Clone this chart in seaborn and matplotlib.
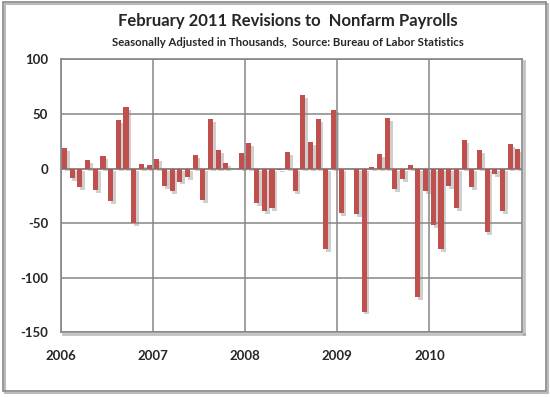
import matplotlib
matplotlib.use("Agg")
import matplotlib.pyplot as plt
import matplotlib.patheffects as pe
from matplotlib.patches import Rectangle
import numpy as np
import pandas as pd
import seaborn as sns

# monthly revisions, Jan 2006 - Dec 2010 (thousands)
rev_2006 = [19, -9, -17, 8, -20, 11, -30, 44, 56, -50, 4, 3]
rev_2007 = [9, -16, -21, -12, -8, 12, -29, 45, 17, 5, 0, 14]
rev_2008 = [23, -32, -39, -36, -1, 15, -21, 67, 24, 45, -74, 54]
rev_2009 = [-41, 0, -42, -131, 1, 13, 46, -19, -10, 3, -118, -21]
rev_2010 = [-52, -74, -16, -36, 26, -17, 17, -58, -5, -39, 22, 18]
years = ["2006", "2007", "2008", "2009", "2010"]

values = rev_2006 + rev_2007 + rev_2008 + rev_2009 + rev_2010
df = pd.DataFrame({"month": np.arange(len(values)), "revision": values})

sns.set_style("white")
plt.rcParams["axes.unicode_minus"] = False
plt.rcParams["font.family"] = ["Lato", "DejaVu Sans"]

fig = plt.figure(figsize=(5.5, 3.97), dpi=100)
ax = fig.add_axes([0.1104, 0.163, 0.8381, 0.6876])

sns.barplot(data=df, x="month", y="revision", native_scale=True, width=0.66,
            color="#C0504D", saturation=1, edgecolor="none", linewidth=0,
            ax=ax, zorder=3)
for bar in ax.patches:
    bar.set_path_effects([pe.SimplePatchShadow(offset=(2, -2), shadow_rgbFace="#888888", alpha=0.4),
                          pe.Normal()])

ax.set_xlim(-0.5, len(values) - 0.5)
ax.set_ylim(-150, 100)
ax.set_yticks(np.arange(-150, 101, 50))
ax.set_yticklabels([str(v) for v in np.arange(-150, 101, 50)], fontsize=9.5, fontweight="bold")
ax.set_xticks(np.arange(len(years)) * 12 - 0.5)
ax.set_xticklabels(years, fontsize=9.5, fontweight="bold")
ax.tick_params(axis="y", length=0, pad=9)
ax.tick_params(axis="x", length=0, pad=13)
ax.grid(True, color="#868686", linewidth=1.1, zorder=0)
ax.axhline(0, color="#868686", linewidth=1.1, zorder=2)
ax.set_xlabel("")
ax.set_ylabel("")
for s in ax.spines.values():
    s.set_color("#868686")
    s.set_linewidth(1.2)
for name in ("bottom", "right"):
    ax.spines[name].set_path_effects([pe.SimpleLineShadow(offset=(1.5, -1.5), shadow_color="#999999",
                                                          alpha=0.6, linewidth=2), pe.Normal()])

fig.text(0.523, 0.946, "February 2011 Revisions to  Nonfarm Payrolls",
         ha="center", va="center", fontsize=12, fontweight="bold")
fig.text(0.523, 0.893, "Seasonally Adjusted in Thousands,  Source: Bureau of Labor Statistics",
         ha="center", va="center", fontsize=8.2, fontweight="bold")

# outer chart frame with a soft shadow
fig.patches.append(Rectangle((0.009, 0.011), 0.988, 0.978, transform=fig.transFigure,
                             fill=False, edgecolor="#bbbbbb", linewidth=1.5))
fig.patches.append(Rectangle((0.005, 0.016), 0.988, 0.978, transform=fig.transFigure,
                             fill=False, edgecolor="#868686", linewidth=1.2))

fig.savefig("out.png", dpi=100)
